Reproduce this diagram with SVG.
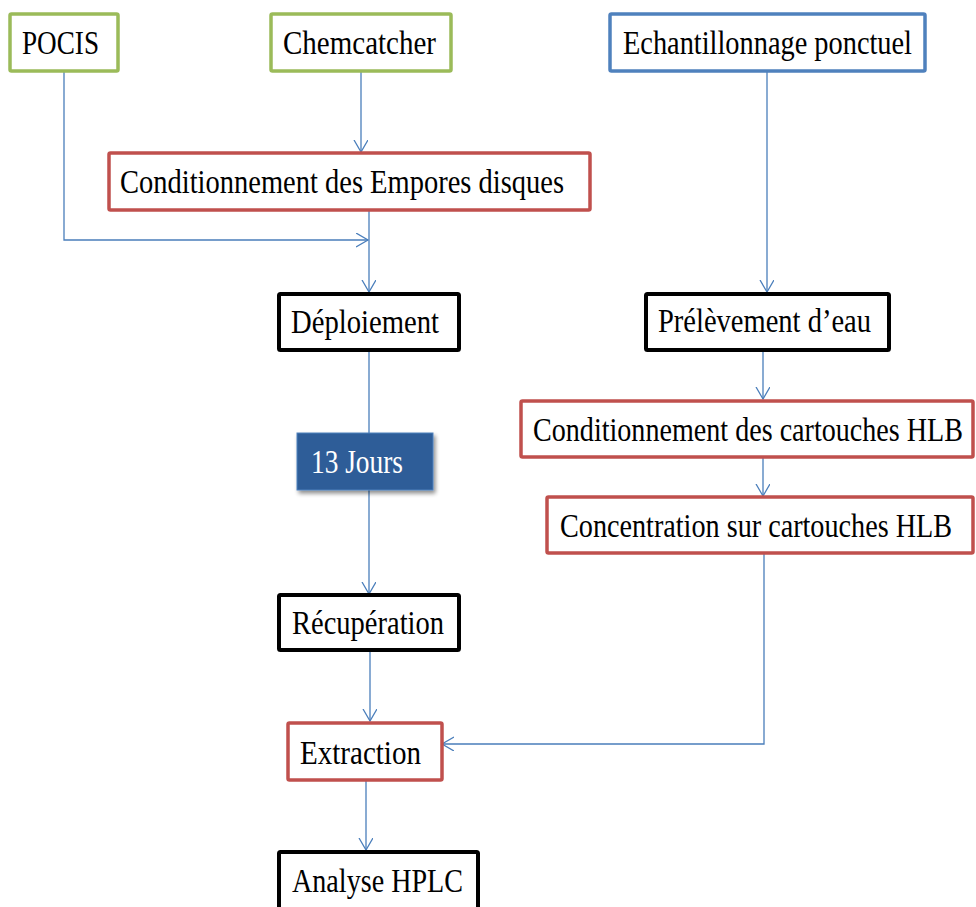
<svg xmlns="http://www.w3.org/2000/svg" width="976" height="907" viewBox="0 0 976 907">
<defs>
<style>
.box{fill:#fff;stroke-width:3.5}
.g{stroke:#9BBB59}
.r{stroke:#C0504D}
.b{stroke:#4F81BD}
.k{stroke:#000;stroke-width:4}
.t{font-family:"Liberation Serif","Times New Roman",serif;font-size:28px;fill:#000}
.w{fill:#fff}
.c{fill:none;stroke:#4A7EBB;stroke-width:1.3}
</style>
<marker id="ah" markerUnits="userSpaceOnUse" markerWidth="14" markerHeight="16" refX="12" refY="7" orient="auto">
<path d="M0,0 L12,7 L0,14" fill="none" stroke="#4A7EBB" stroke-width="1.3"/>
</marker>
<filter id="sh" x="-20%" y="-20%" width="150%" height="160%">
<feGaussianBlur in="SourceAlpha" stdDeviation="2"/>
<feOffset dx="2" dy="3"/>
<feComponentTransfer><feFuncA type="linear" slope="0.45"/></feComponentTransfer>
<feMerge><feMergeNode/><feMergeNode in="SourceGraphic"/></feMerge>
</filter>
</defs>

<g id="connectors">
<path class="c" d="M64,71 V240 H368" marker-end="url(#ah)"/>
<path class="c" d="M361,71 V152" marker-end="url(#ah)"/>
<path class="c" d="M369,210 V292" marker-end="url(#ah)"/>
<path class="c" d="M767,71 V292" marker-end="url(#ah)"/>
<path class="c" d="M763,350 V399" marker-end="url(#ah)"/>
<path class="c" d="M763,457 V496" marker-end="url(#ah)"/>
<path class="c" d="M764,553 V744 H442" marker-end="url(#ah)"/>
<path class="c" d="M369,350 V433"/>
<path class="c" d="M369,490 V594" marker-end="url(#ah)"/>
<path class="c" d="M370,650 V721" marker-end="url(#ah)"/>
<path class="c" d="M366,780 V850" marker-end="url(#ah)"/>
</g>

<g id="pocis">
<rect class="box g" x="10" y="14" width="108" height="57" rx="1.5"/>
<text class="t" transform="translate(22,54) scale(1,1.18)" textLength="77" lengthAdjust="spacingAndGlyphs">POCIS</text>
</g>
<g id="chemcatcher">
<rect class="box g" x="271" y="14" width="180" height="57" rx="1.5"/>
<text class="t" transform="translate(283,54) scale(1,1.18)" textLength="153" lengthAdjust="spacingAndGlyphs">Chemcatcher</text>
</g>
<g id="echantillonnage">
<rect class="box b" x="610" y="14" width="315" height="57" rx="1.5"/>
<text class="t" transform="translate(623,54) scale(1,1.18)" textLength="289" lengthAdjust="spacingAndGlyphs">Echantillonnage ponctuel</text>
</g>
<g id="conditionnement-empores">
<rect class="box r" x="109" y="153" width="481" height="57" rx="1.5"/>
<text class="t" transform="translate(120,193) scale(1,1.18)" textLength="444" lengthAdjust="spacingAndGlyphs">Conditionnement des Empores disques</text>
</g>
<g id="deploiement">
<rect class="box k" x="279" y="294" width="180" height="56" rx="1.5"/>
<text class="t" transform="translate(291,333) scale(1,1.18)" textLength="148" lengthAdjust="spacingAndGlyphs">Déploiement</text>
</g>
<g id="prelevement">
<rect class="box k" x="646" y="294" width="243" height="56" rx="1.5"/>
<text class="t" transform="translate(658,332) scale(1,1.18)" textLength="213" lengthAdjust="spacingAndGlyphs">Prélèvement d’eau</text>
</g>
<g id="jours">
<rect x="297" y="433" width="136" height="57" fill="#2E5D98" stroke="#4F81BD" stroke-width="1" filter="url(#sh)"/>
<text class="t w" transform="translate(311,473) scale(1,1.18)" textLength="92" lengthAdjust="spacingAndGlyphs">13 Jours</text>
</g>
<g id="conditionnement-cartouches">
<rect class="box r" x="521" y="401" width="452" height="56" rx="1.5"/>
<text class="t" transform="translate(533,441) scale(1,1.18)" textLength="430" lengthAdjust="spacingAndGlyphs">Conditionnement des cartouches HLB</text>
</g>
<g id="concentration">
<rect class="box r" x="547" y="497" width="426" height="56" rx="1.5"/>
<text class="t" transform="translate(560,537) scale(1,1.18)" textLength="392" lengthAdjust="spacingAndGlyphs">Concentration sur cartouches HLB</text>
</g>
<g id="recuperation">
<rect class="box k" x="279" y="595" width="180" height="55" rx="1.5"/>
<text class="t" transform="translate(292,634) scale(1,1.18)" textLength="152" lengthAdjust="spacingAndGlyphs">Récupération</text>
</g>
<g id="extraction">
<rect class="box r" x="288" y="723" width="154" height="57" rx="1.5"/>
<text class="t" transform="translate(300,764) scale(1,1.18)" textLength="121" lengthAdjust="spacingAndGlyphs">Extraction</text>
</g>
<g id="analyse">
<rect class="box k" x="279" y="852" width="199" height="60" rx="1.5"/>
<text class="t" transform="translate(292,892) scale(1,1.18)" textLength="171" lengthAdjust="spacingAndGlyphs">Analyse HPLC</text>
</g>
</svg>
